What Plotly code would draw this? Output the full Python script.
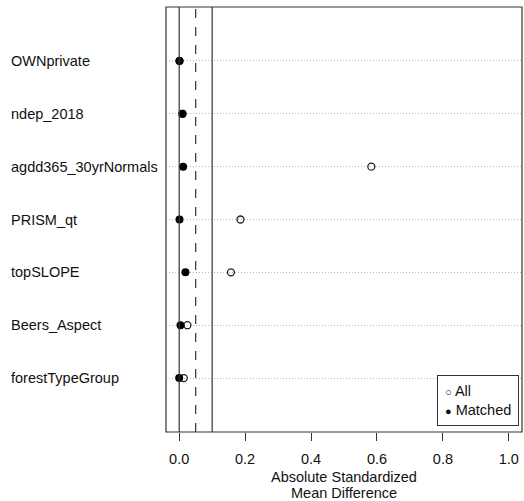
import plotly.graph_objects as go

variables = ["forestTypeGroup", "Beers_Aspect", "topSLOPE", "PRISM_qt",
             "agdd365_30yrNormals", "ndep_2018", "OWNprivate"]
all_vals = [0.014, 0.025, 0.157, 0.186, 0.583, 0.010, 0.001]
matched_vals = [0.000, 0.004, 0.019, 0.001, 0.012, 0.010, 0.001]
ref_lines = [0.0, 0.05, 0.1]
ref_dash = ["solid", "dash", "solid"]
x_ticks = [0.0, 0.2, 0.4, 0.6, 0.8, 1.0]
x_ticktext = ["0.0", "0.2", "0.4", "0.6", "0.8", "1.0"]
legend_labels = ["All", "Matched"]
x_title_lines = ["Absolute Standardized", "Mean Difference"]

FS = 14.5
ypos = list(range(1, len(variables) + 1))

fig = go.Figure()
fig.add_trace(go.Scatter(x=all_vals, y=ypos, mode="markers", name="All",
                         marker=dict(symbol="circle-open", size=7, color="#222",
                                     line=dict(width=1.3, color="#222"))))
fig.add_trace(go.Scatter(x=matched_vals, y=ypos, mode="markers", name="Matched",
                         marker=dict(symbol="circle", size=8, color="black")))

for xv, d in zip(ref_lines, ref_dash):
    fig.add_shape(type="line", x0=xv, x1=xv, y0=0, y1=1, xref="x", yref="paper",
                  line=dict(color="#333", width=1.2, dash=d))

for v, y in zip(variables, ypos):
    fig.add_annotation(text=v, x=-0.4415, xref="paper", y=y, yref="y",
                       xanchor="left", yanchor="middle", showarrow=False,
                       font=dict(size=FS, color="#111"))

fig.add_shape(type="rect", x0=0, x1=1, y0=0, y1=1, xref="paper", yref="paper",
              line=dict(color="#333", width=1.2))

# axis title (two lines, R-style spacing)
for txt, yp in zip(x_title_lines, [-0.106, -0.1435]):
    fig.add_annotation(text=txt, x=0.5, xref="paper", y=yp, yref="paper",
                       xanchor="center", yanchor="middle", showarrow=False,
                       font=dict(size=FS, color="#111"))

# legend box
legend_text = ('<span style="font-size:11px">○</span> ' + legend_labels[0] +
               '<br><span style="font-size:11px">●</span> ' + legend_labels[1])
fig.add_annotation(text=legend_text, x=0.992, xref="paper", y=0.014, yref="paper",
                   xanchor="right", yanchor="bottom", showarrow=False, align="left",
                   bordercolor="#333", borderwidth=1, borderpad=7, bgcolor="white",
                   font=dict(size=FS, color="#111"))

fig.update_layout(
    width=524, height=501,
    margin=dict(l=166, r=2, t=7, b=69),
    plot_bgcolor="white", paper_bgcolor="white",
    font=dict(family="Liberation Sans, Arial, sans-serif", size=FS, color="#111"),
    showlegend=False,
    xaxis=dict(range=[-0.04, 1.04], tickvals=x_ticks, ticktext=x_ticktext,
               showgrid=False, zeroline=False, ticks="outside", ticklen=8,
               tickcolor="#333", tickwidth=1.2, ticklabelstandoff=6,
               tickfont=dict(size=FS)),
    yaxis=dict(range=[-0.02, 8.02], tickvals=ypos, showticklabels=False,
               showgrid=True, griddash="1px,2px", gridcolor="#b8b8b8", gridwidth=1,
               zeroline=False, ticks=""),
)

fig.write_html("out.html")
